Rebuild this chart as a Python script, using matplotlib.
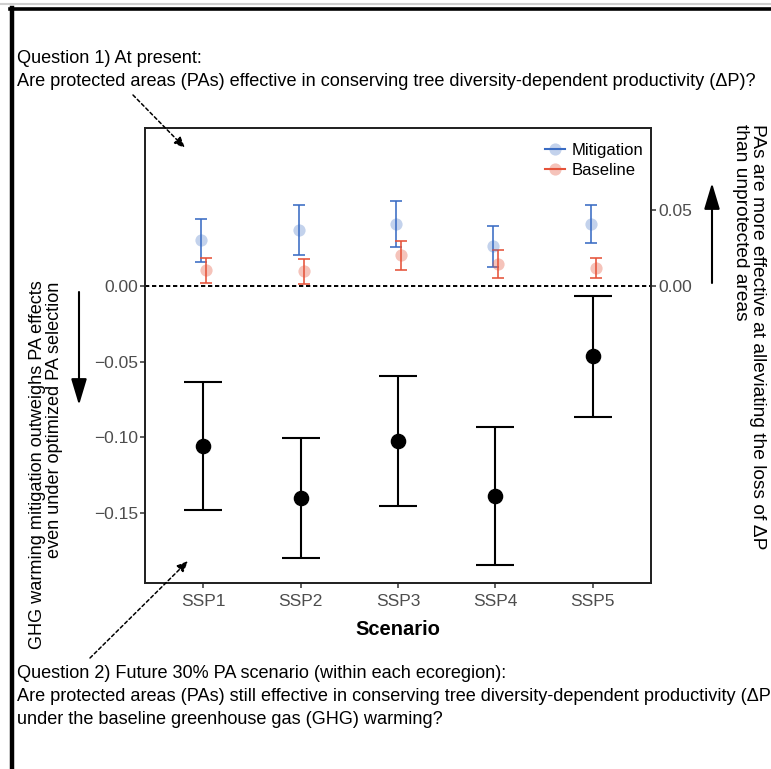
import matplotlib
matplotlib.use('Agg')
import matplotlib.pyplot as plt
import numpy as np
from matplotlib.lines import Line2D
from matplotlib.ticker import FuncFormatter
from matplotlib.colors import to_rgba

plt.rcParams['font.family'] = ['Liberation Sans', 'DejaVu Sans']
plt.rcParams['axes.unicode_minus'] = True

# ---------------- data ----------------
scenarios = ['SSP1', 'SSP2', 'SSP3', 'SSP4', 'SSP5']

future_mean = [-0.1058, -0.1404, -0.1026, -0.1389, -0.0466]
future_lo   = [-0.1479, -0.1799, -0.1457, -0.1848, -0.0865]
future_hi   = [-0.0638, -0.1009, -0.0596, -0.0932, -0.0066]

mitig_mean = [0.0303, 0.0371, 0.0408, 0.0263, 0.0410]
mitig_lo   = [0.0159, 0.0205, 0.0258, 0.0128, 0.0285]
mitig_hi   = [0.0446, 0.0538, 0.0561, 0.0399, 0.0534]

base_mean = [0.0104, 0.0099, 0.0203, 0.0143, 0.0119]
base_lo   = [0.0022, 0.0015, 0.0108, 0.0055, 0.0055]
base_hi   = [0.0183, 0.0179, 0.0296, 0.0236, 0.0183]

left_ticks = [0.00, -0.05, -0.10, -0.15]
right_ticks = [0.05, 0.00]

series_labels = ['Mitigation', 'Baseline']

q1_lines = ['Question 1) At present:',
            'Are protected areas (PAs) effective in conserving tree diversity-dependent productivity (\u0394P)?']
q2_lines = ['Question 2) Future 30% PA scenario (within each ecoregion):',
            'Are protected areas (PAs) still effective in conserving tree diversity-dependent productivity (\u0394P)?',
            'under the baseline greenhouse gas (GHG) warming?']
left_note = ['GHG warming mitigation outweighs PA effects',
             'even under optimized PA selection']
right_note = ['PAs are more effective at alleviating the loss of \u0394P',
              'than unprotected areas']

# ---------------- styling ----------------
BLUE = '#3a6cc3'
RED = '#e5533a'
W, H = 771, 769

fig = plt.figure(figsize=(W / 100, H / 100), dpi=100)
renderer = fig.canvas.get_renderer()


def fx(x):
    return x / W


def fy(y):
    return 1 - y / H


ax = fig.add_axes([fx(145), fy(583), fx(651) - fx(145), fy(128) - fy(583)])
x = np.arange(1, len(scenarios) + 1)

fm = np.array(future_mean)
ax.errorbar(x, fm, yerr=[fm - np.array(future_lo), np.array(future_hi) - fm],
            fmt='o', color='black', ms=10.2, capsize=14, elinewidth=1.5,
            capthick=1.5, zorder=4)

off_m, off_b = -0.02, 0.03
mm = np.array(mitig_mean)
bm = np.array(base_mean)
ax.errorbar(x + off_m, mm, yerr=[mm - np.array(mitig_lo), np.array(mitig_hi) - mm],
            fmt='none', ecolor=BLUE, elinewidth=1.15, capsize=4.4, capthick=1.15, zorder=3)
ax.errorbar(x + off_b, bm, yerr=[bm - np.array(base_lo), np.array(base_hi) - bm],
            fmt='none', ecolor=RED, elinewidth=1.15, capsize=4.4, capthick=1.15, zorder=3)
ax.plot(x + off_m, mm, 'o', ms=8.8, mfc=to_rgba(BLUE, 0.3), mec='none', zorder=3.5)
ax.plot(x + off_b, bm, 'o', ms=8.8, mfc=to_rgba(RED, 0.35), mec='none', zorder=3.5)

ax.axhline(0, color='black', lw=1.4, dashes=(2.2, 1.4), zorder=2)

ax.set_xlim(0.4, 5.6)
ax.set_ylim(-0.1965, 0.1045)
ax.set_xticks(x)
ax.set_xticklabels(scenarios)
ax.set_yticks(left_ticks)


def fmt(v, pos):
    s = f'{abs(v):.2f}'
    return ('\u2212' + s) if v < -1e-9 else s


ax.yaxis.set_major_formatter(FuncFormatter(fmt))

ax2 = ax.twinx()
ax2.set_ylim(ax.get_ylim())
ax2.set_yticks(right_ticks)
ax2.yaxis.set_major_formatter(FuncFormatter(fmt))

for a in (ax, ax2):
    for sp in a.spines.values():
        sp.set_linewidth(1.3)
        sp.set_color('#222222')
    a.tick_params(direction='out', length=3.6, width=1.1, color='#333333',
                  labelcolor='#4d4d4d', labelsize=12.5)
ax.tick_params(axis='y', pad=1.5)
ax.tick_params(axis='x', pad=4)
ax2.tick_params(axis='y', pad=2)

ax.set_xlabel('Scenario', fontsize=14.5, fontweight='bold', labelpad=8)

handles = [
    Line2D([0], [0], color=BLUE, lw=1.5, marker='o', ms=8.8,
           mfc=to_rgba(BLUE, 0.3), mec='none'),
    Line2D([0], [0], color=RED, lw=1.5, marker='o', ms=8.8,
           mfc=to_rgba(RED, 0.35), mec='none'),
]
ax.legend(handles, series_labels, loc='upper left',
          bbox_to_anchor=((545 - 145) / 506, 1 - (143 - 128) / 455),
          frameon=False, fontsize=12, handlelength=1.2, handletextpad=0.4,
          labelspacing=0.3, borderpad=0, borderaxespad=0)


# ---------------- text annotations ----------------
def fit(t, target, horizontal=True):
    bb = t.get_window_extent(renderer)
    cur = bb.width if horizontal else bb.height
    t.set_fontsize(t.get_fontsize() * target / cur)


tq = fig.text(fx(17), fy(85.5), q1_lines[1], ha='left', va='baseline', fontsize=13)
fit(tq, 738)
qsize = tq.get_fontsize()
fig.text(fx(17), fy(63), q1_lines[0], ha='left', va='baseline', fontsize=qsize)
for line, yb in zip(q2_lines, [678, 701, 724]):
    fig.text(fx(17), fy(yb), line, ha='left', va='baseline', fontsize=qsize)

tl1 = fig.text(fx(37.5), fy(280), left_note[0], rotation=90, ha='center', va='top', fontsize=13)
fit(tl1, 368, horizontal=False)
tl2 = fig.text(fx(54.5), fy(282), left_note[1], rotation=90, ha='center', va='top',
               fontsize=tl1.get_fontsize())
tr1 = fig.text(fx(757.5), fy(123.5), right_note[0], rotation=270, ha='center', va='top',
               fontsize=13)
fit(tr1, 424, horizontal=False)
tr2 = fig.text(fx(740), fy(124.5), right_note[1], rotation=270, ha='center', va='top',
               fontsize=tr1.get_fontsize())

# dashed pointer arrows
for (x0, y0), (x1, y1) in [((133, 95), (185, 148)), ((90, 658), (188, 561))]:
    fig.add_artist(matplotlib.patches.FancyArrowPatch(
        (fx(x0), fy(y0)), (fx(x1), fy(y1)), transform=fig.transFigure,
        arrowstyle='-|>,head_length=0.65,head_width=0.28', mutation_scale=10,
        lw=1.1, linestyle=(0, (2.2, 1.8)), color='black', shrinkA=0, shrinkB=0))

# solid direction arrows
for (x0, y0), (x1, y1) in [((79, 292), (79, 405)), ((712, 283), (712, 183))]:
    fig.add_artist(matplotlib.patches.FancyArrowPatch(
        (fx(x0), fy(y0)), (fx(x1), fy(y1)), transform=fig.transFigure,
        arrowstyle='-|>,head_length=0.8,head_width=0.24', mutation_scale=20,
        lw=1.5, color='black', shrinkA=0, shrinkB=0))

# frame lines of the figure panel
fig.add_artist(Line2D([0, 1], [fy(3.5), fy(3.5)], transform=fig.transFigure,
                      color='#cfcfcf', lw=1.5))
fig.add_artist(Line2D([fx(9.5), 1], [fy(8.8), fy(8.8)], transform=fig.transFigure,
                      color='black', lw=2.6))
fig.add_artist(Line2D([fx(11.5), fx(11.5)], [fy(7.5), 0], transform=fig.transFigure,
                      color='black', lw=3.2))

fig.savefig('out.png', dpi=100)
